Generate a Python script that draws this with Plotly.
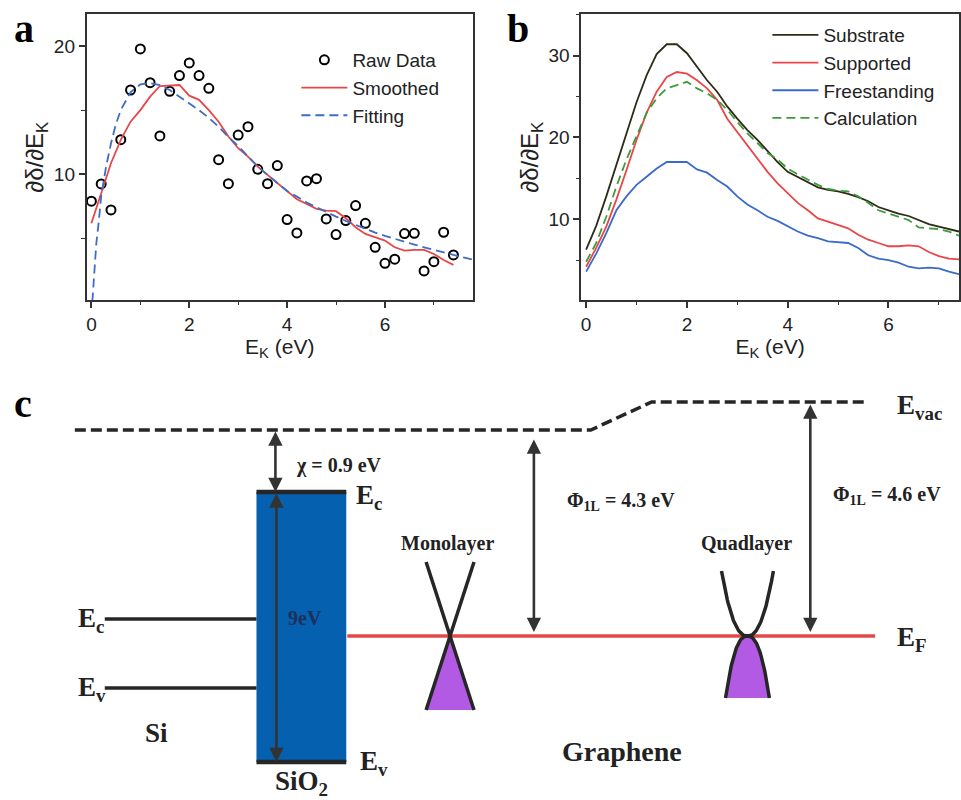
import numpy as np
import plotly.graph_objects as go

# ---------------- Panel a data ----------------
raw_x = [round(0.2 * i, 1) for i in range(38)]
raw_y = [7.9, 9.25, 7.22, 12.7, 16.57, 19.77, 17.14, 12.99, 16.47, 17.69,
         18.68, 17.69, 16.7, 11.14, 9.27, 13.06, 13.71, 10.39, 9.27, 10.68,
         6.47, 5.43, 9.48, 9.66, 6.52, 5.3, 6.39, 7.56, 6.18, 4.31,
         3.06, 3.38, 5.38, 5.40, 2.47, 3.19, 5.48, 3.71]
smooth_y = [6.18, 8.5, 10.86, 12.68, 14.1, 15.0, 16.05, 16.88, 16.9, 16.96,
            16.13, 15.8, 15.0, 14.1, 12.94, 12.03, 11.38, 10.6, 9.95, 9.3,
            8.65, 8.05, 7.69, 7.3, 7.17, 7.12, 6.57, 5.87, 5.35, 5.09,
            4.83, 4.31, 4.05, 4.1, 4.1, 3.79, 3.32, 2.94]
fit_x = [0, 0.05, 0.1, 0.15, 0.2, 0.3, 0.4, 0.5, 0.6, 0.8, 1.0, 1.2, 1.4, 1.6, 1.8,
         2.0, 2.2, 2.4, 2.6, 2.8, 3.0, 3.2, 3.4, 3.6, 3.8, 4.0, 4.2, 4.4, 4.6, 4.8,
         5.0, 5.2, 5.4, 5.6, 5.8, 6.0, 6.2, 6.4, 6.6, 6.8, 7.0, 7.2, 7.4, 7.6, 7.8]
fit_y = [-1.0, 2.0, 4.6, 6.3, 8.3, 10.6, 12.4, 13.9, 15.0, 16.4, 17.0, 17.1, 16.96, 16.57, 16.05,
         15.5, 15.0, 14.4, 13.7, 12.9, 12.2, 11.4, 10.6, 9.95, 9.3, 8.7, 8.26, 7.8, 7.43, 7.04,
         6.7, 6.36, 6.05, 5.74, 5.45, 5.2, 4.96, 4.73, 4.52, 4.31, 4.1, 3.92, 3.71, 3.53, 3.35]

# ---------------- Panel b data ----------------
b_x = [round(0.2 * i, 1) for i in range(38)]
substrate = [6.3, 9.2, 12.8, 16.6, 20.5, 24.3, 27.6, 30.2, 31.4, 31.4,
             30.3, 28.7, 27.0, 25.6, 23.8, 22.3, 20.9, 19.7, 18.3, 17.0,
             15.8, 15.2, 14.6, 13.9, 13.6, 13.4, 13.1, 12.7, 12.2, 11.5,
             11.1, 10.7, 10.4, 9.9, 9.4, 9.1, 8.8, 8.5]
supported = [4.2, 6.5, 9.1, 12.4, 16.0, 19.7, 23.0, 25.6, 27.4, 28.0,
             27.8, 27.0, 26.0, 24.6, 22.3, 20.7, 19.1, 17.5, 15.8, 14.4,
             13.2, 12.0, 11.1, 10.1, 9.7, 9.3, 8.9, 8.1, 7.5, 7.1,
             6.7, 6.7, 6.8, 6.7, 6.0, 5.5, 5.2, 5.1]
freestanding = [3.6, 5.8, 8.3, 11.1, 12.8, 14.2, 15.2, 16.2, 17.0, 17.0,
                17.0, 16.1, 15.7, 14.8, 14.0, 12.8, 11.8, 11.1, 10.3, 9.8,
                9.1, 8.5, 8.0, 7.7, 7.3, 7.2, 7.1, 6.5, 5.6, 5.2,
                5.0, 4.7, 4.2, 4.0, 4.1, 4.0, 3.6, 3.3]
calculation = [4.8, 7.1, 10.3, 14.0, 17.3, 20.1, 23.0, 24.8, 26.0, 26.4,
               26.8, 26.0, 25.4, 24.6, 23.4, 21.9, 20.5, 19.3, 18.1, 17.3,
               16.2, 15.5, 14.8, 14.2, 13.7, 13.5, 13.4, 12.8, 12.0, 11.1,
               10.7, 10.3, 9.9, 9.0, 8.9, 8.8, 8.5, 8.0]

# ---------------- Panel c diagram (canvas units) ----------------
vac_x = [75, 592, 653, 867]
vac_y = [430, 430, 402, 402]
sio2_box = [257, 492, 347, 762]          # x0, y0, x1, y1
si_ec = [105, 257, 619]                  # x0, x1, y
si_ev = [105, 257, 688]
ef_line = [348, 877, 636]
mono = [427, 475, 562, 710]              # xl, xr, ytop, ybottom
quad_center = [749, 636]
quad_up = [26, 65, 2.3]                  # half width, height, curvature exponent
quad_down = [22, 62, 2.4]
arrows = [  # x, y_top, y_bottom
    [276, 430, 492],
    [277, 492, 762],
    [535, 438, 632],
    [812, 403, 632],
]
labels = [  # text, x, y, size, anchor, color
    ["χ = 0.9 eV", 295, 465, 20, "left", "#222"],
    ["E<sub>c</sub>", 355, 497, 27, "left", "#222"],
    ["E<sub>v</sub>", 359, 763, 27, "left", "#222"],
    ["9eV", 287, 618, 20, "left", "#1d2f5a"],
    ["E<sub>c</sub>", 76, 620, 27, "left", "#222"],
    ["E<sub>v</sub>", 76, 689, 27, "left", "#222"],
    ["Si", 157, 733, 27, "center", "#222"],
    ["SiO<sub>2</sub>", 302, 783, 27, "center", "#222"],
    ["Monolayer", 448, 543, 20, "center", "#222"],
    ["Quadlayer", 748, 543, 20, "center", "#222"],
    ["Φ<sub>1L</sub> = 4.3 eV", 566, 501, 20, "left", "#222"],
    ["Φ<sub>1L</sub> = 4.6 eV", 833, 495, 20, "left", "#222"],
    ["Graphene", 623, 751, 28, "center", "#222"],
    ["E<sub>vac</sub>", 897, 407, 27, "left", "#222"],
    ["E<sub>F</sub>", 897, 639, 27, "left", "#222"],
]

SANS = "Liberation Sans, Arial, sans-serif"
SERIF = "Liberation Serif, Times New Roman, serif"
AXC = "#333333"
PURPLE = "#b35ae4"
BLUEBOX = "#0561b0"
REDEF = "#e24a4a"
DARK = "#262626"

fig = go.Figure()

# Panel a
fig.add_trace(go.Scatter(x=raw_x, y=raw_y, mode="markers", name="Raw Data",
                         marker=dict(symbol="circle-open", size=9, color="black",
                                     line=dict(width=2, color="black")),
                         xaxis="x", yaxis="y", legend="legend"))
fig.add_trace(go.Scatter(x=raw_x, y=smooth_y, mode="lines", name="Smoothed",
                         line=dict(color="#e8474a", width=1.8),
                         xaxis="x", yaxis="y", legend="legend"))
fig.add_trace(go.Scatter(x=fit_x, y=fit_y, mode="lines", name="Fitting",
                         line=dict(color="#3d6cc7", width=1.8, dash="9px,5px"),
                         xaxis="x", yaxis="y", legend="legend"))

# Panel b
for name, ys, col, dash in [("Substrate", substrate, "#2c2c18", None),
                            ("Supported", supported, "#ea4547", None),
                            ("Freestanding", freestanding, "#3a6bc9", None),
                            ("Calculation", calculation, "#3f9a3c", "9px,5px")]:
    fig.add_trace(go.Scatter(x=b_x, y=ys, mode="lines", name=name,
                             line=dict(color=col, width=1.8, dash=dash),
                             xaxis="x2", yaxis="y2", legend="legend2"))

# Panel c traces
def ctrace(x, y, **kw):
    fig.add_trace(go.Scatter(x=x, y=y, xaxis="x3", yaxis="y3", showlegend=False,
                             hoverinfo="skip", **kw))

# SiO2 box
ctrace([sio2_box[0], sio2_box[2], sio2_box[2], sio2_box[0], sio2_box[0]],
       [sio2_box[1], sio2_box[1], sio2_box[3], sio2_box[3], sio2_box[1]],
       mode="lines", fill="toself", fillcolor=BLUEBOX, line=dict(width=0, color=BLUEBOX))
ctrace([sio2_box[0], sio2_box[2]], [sio2_box[1], sio2_box[1]], mode="lines",
       line=dict(color=DARK, width=4.5))
ctrace([sio2_box[0], sio2_box[2]], [sio2_box[3], sio2_box[3]], mode="lines",
       line=dict(color=DARK, width=4.5))
# Si levels
ctrace([si_ec[0], si_ec[1]], [si_ec[2], si_ec[2]], mode="lines", line=dict(color=DARK, width=3.5))
ctrace([si_ev[0], si_ev[1]], [si_ev[2], si_ev[2]], mode="lines", line=dict(color=DARK, width=3.5))
# Vacuum level
ctrace(vac_x, vac_y, mode="lines", line=dict(color=DARK, width=3.5, dash="11px,5px"))
# Fermi level
ctrace([ef_line[0], ef_line[1]], [ef_line[2], ef_line[2]], mode="lines",
       line=dict(color=REDEF, width=3.5))

# Monolayer cone
xl, xr, yt, yb = mono
xc = (xl + xr) / 2
yc = (yt + yb) / 2
ctrace([xc, xl, xr, xc], [yc, yb, yb, yc], mode="lines", fill="toself",
       fillcolor=PURPLE, line=dict(width=0, color=PURPLE))
ctrace([xl, xr], [yt, yb], mode="lines", line=dict(color=DARK, width=3.5))
ctrace([xr, xl], [yt, yb], mode="lines", line=dict(color=DARK, width=3.5))

# Quadlayer bands
qx, qy = quad_center
t = np.linspace(-1, 1, 81)
ux = qx + quad_up[0] * t
uy = qy - quad_up[1] * np.abs(t) ** quad_up[2]
dx = qx + quad_down[0] * t
dy = qy + quad_down[1] * np.abs(t) ** quad_down[2]
ctrace(list(dx) + [dx[0]], list(dy) + [dy[0]], mode="lines", fill="toself",
       fillcolor=PURPLE, line=dict(width=0, color=PURPLE))
ctrace(dx, dy, mode="lines", line=dict(color=DARK, width=3.5))
ctrace(ux, uy, mode="lines", line=dict(color=DARK, width=3.5))

annotations = []
for ax_x, ytop, ybot in arrows:
    annotations.append(dict(x=ax_x, y=ybot, ax=ax_x, ay=ytop, xref="x3", yref="y3",
                            axref="x3", ayref="y3", text="", showarrow=True,
                            arrowhead=2, arrowside="end+start", arrowsize=1.1,
                            arrowwidth=2.6, arrowcolor="#333333"))
for txt, x, y, size, anchor, col in labels:
    annotations.append(dict(x=x, y=y, xref="x3", yref="y3", text="<b>" + txt + "</b>",
                            showarrow=False, xanchor=anchor, yanchor="middle",
                            font=dict(family=SERIF, size=size, color=col)))

# Panel letters
for letter, x, y in [("a", 12, 28), ("b", 506, 28), ("c", 12, 403)]:
    annotations.append(dict(x=x / 961, y=1 - y / 800, xref="paper", yref="paper",
                            text="<b>" + letter + "</b>", showarrow=False,
                            xanchor="left", yanchor="middle",
                            font=dict(family=SERIF, size=40, color="black")))

axis_common = dict(showline=True, linecolor=AXC, linewidth=1.5, mirror=True,
                   ticks="outside", ticklen=6, tickwidth=1.5, tickcolor=AXC,
                   showgrid=False, zeroline=False,
                   tickfont=dict(family=SANS, size=19, color="#222"))
minor_common = dict(ticks="outside", ticklen=3.5, tickwidth=1.2, tickcolor=AXC, showgrid=False)

fig.update_layout(
    width=961, height=800, margin=dict(l=0, r=0, t=0, b=0),
    paper_bgcolor="white", plot_bgcolor="white", showlegend=True,
    xaxis=dict(domain=[86.7 / 961, 474 / 961], range=[-0.1, 7.8], anchor="y",
               dtick=2, tick0=0, minor=dict(dtick=1, **minor_common),
               title=dict(text="E<sub>K</sub> (eV)", standoff=5,
                          font=dict(family=SANS, size=21, color="#222")), **axis_common),
    yaxis=dict(domain=[1 - 300 / 800, 1 - 14.3 / 800], range=[0.2, 22.47], anchor="x",
               dtick=10, tick0=0, minor=dict(dtick=5, **minor_common),
               title=dict(text="∂δ/∂E<sub>K</sub>", standoff=3,
                          font=dict(family=SANS, size=24, color="#222")), **axis_common),
    xaxis2=dict(domain=[582.3 / 961, 1.0], range=[-0.1, 7.4], anchor="y2",
                dtick=2, tick0=0, minor=dict(dtick=1, **minor_common),
                title=dict(text="E<sub>K</sub> (eV)", standoff=5,
                           font=dict(family=SANS, size=21, color="#222")), **axis_common),
    yaxis2=dict(domain=[1 - 300 / 800, 1 - 14.3 / 800], range=[0.13, 35.06], anchor="x2",
                dtick=10, tick0=0, minor=dict(dtick=5, **minor_common),
                title=dict(text="∂δ/∂E<sub>K</sub>", standoff=3,
                           font=dict(family=SANS, size=24, color="#222")), **axis_common),
    xaxis3=dict(domain=[0, 1], range=[0, 961], visible=False, anchor="y3", fixedrange=True),
    yaxis3=dict(domain=[0, 1 - 380 / 800], range=[800, 380], visible=False, anchor="x3",
                fixedrange=True),
    legend=dict(x=297 / 961, y=1 - 41 / 800, xanchor="left", yanchor="top",
                bgcolor="rgba(0,0,0,0)", tracegroupgap=0, itemwidth=46,
                font=dict(family=SANS, size=19, color="#222")),
    legend2=dict(x=769 / 961, y=1 - 16 / 800, xanchor="left", yanchor="top",
                 bgcolor="rgba(0,0,0,0)", tracegroupgap=0, itemwidth=46,
                 font=dict(family=SANS, size=19, color="#222")),
    annotations=annotations,
)

fig.write_html("out.html", config={"displayModeBar": False},
               post_script="document.body.style.margin='0px';document.body.style.overflow='hidden';")
